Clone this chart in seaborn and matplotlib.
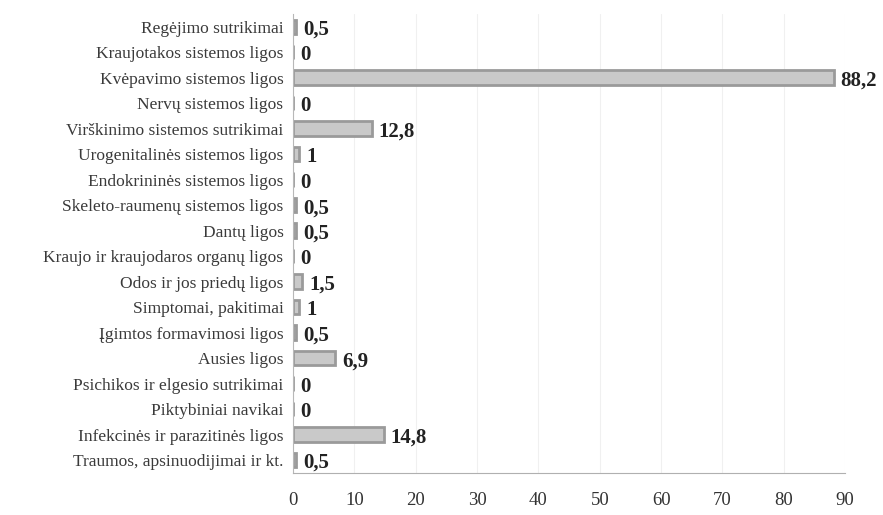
import matplotlib
matplotlib.use("Agg")
import matplotlib.pyplot as plt
import seaborn as sns
import pandas as pd

categories = [
    "Regėjimo sutrikimai",
    "Kraujotakos sistemos ligos",
    "Kvėpavimo sistemos ligos",
    "Nervų sistemos ligos",
    "Virškinimo sistemos sutrikimai",
    "Urogenitalinės sistemos ligos",
    "Endokrininės sistemos ligos",
    "Skeleto-raumenų sistemos ligos",
    "Dantų ligos",
    "Kraujo ir kraujodaros organų ligos",
    "Odos ir jos priedų ligos",
    "Simptomai, pakitimai",
    "Įgimtos formavimosi ligos",
    "Ausies ligos",
    "Psichikos ir elgesio sutrikimai",
    "Piktybiniai navikai",
    "Infekcinės ir parazitinės ligos",
    "Traumos, apsinuodijimai ir kt.",
]
values = [0.5, 0, 88.2, 0, 12.8, 1, 0, 0.5, 0.5, 0, 1.5, 1, 0.5, 6.9, 0, 0, 14.8, 0.5]
value_labels = ["0,5", "0", "88,2", "0", "12,8", "1", "0", "0,5", "0,5", "0",
                "1,5", "1", "0,5", "6,9", "0", "0", "14,8", "0,5"]
xticks = [0, 10, 20, 30, 40, 50, 60, 70, 80, 90]

df = pd.DataFrame({"liga": categories, "reiksme": values})

sns.set_style("white")
plt.rcParams["font.family"] = ["Liberation Serif", "DejaVu Serif"]

fig = plt.figure(figsize=(8.83, 5.15), dpi=100)
ax = fig.add_axes([0.332, 0.082, 0.625, 0.891])

sns.barplot(data=df, y="liga", x="reiksme", orient="h", ax=ax,
            color="#c9c9c9", edgecolor="#9a9a9a", linewidth=2.0,
            width=0.56, saturation=1)

for i, (v, lab) in enumerate(zip(values, value_labels)):
    ax.text(v + 1.1, i + 0.12, lab, va="center", ha="left",
            fontsize=15, fontweight="bold", color="#222222")

ax.set_xlim(0, 90)
ax.set_ylim(17.5, -0.5)
ax.set_xticks(xticks)
ax.set_xticklabels([str(t) for t in xticks], fontsize=13.5, color="#333333")
ax.tick_params(axis="y", labelsize=12.5, pad=7, length=0, colors="#3a3a3a")
ax.tick_params(axis="x", pad=14, length=0)
ax.set_xlabel("")
ax.set_ylabel("")
ax.xaxis.grid(True, color="#f0f0f0", linewidth=0.8)
ax.set_axisbelow(True)

for s in ["top", "right"]:
    ax.spines[s].set_visible(False)
ax.spines["left"].set_color("#b8b8b8")
ax.spines["bottom"].set_color("#b0b0b0")
ax.spines["bottom"].set_linestyle((0, (2, 1)))

fig.savefig("out.png", dpi=100)
